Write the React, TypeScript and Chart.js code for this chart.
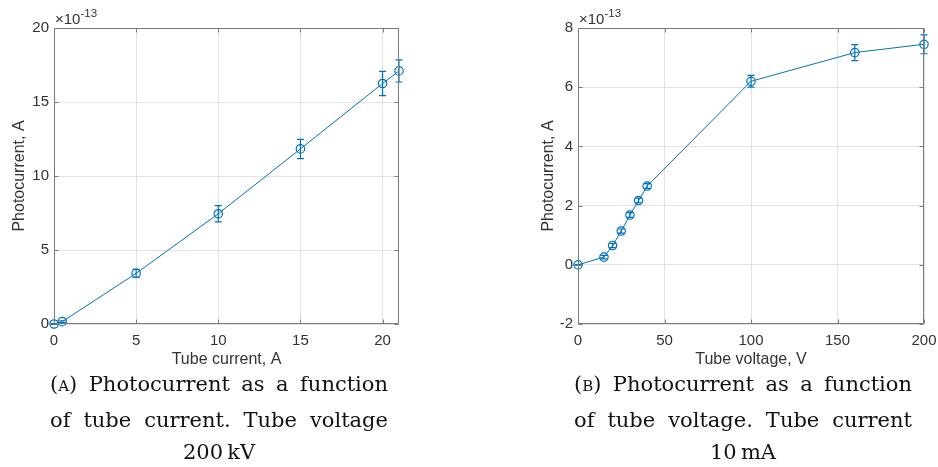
import React, { useEffect, useRef } from "react";
import { Chart, registerables } from "chart.js";

Chart.register(...registerables);

// ---- Data (photocurrent in units of 1e-13 A) ----
const tubeCurrent = [0, 0.5, 5, 10, 15, 20, 21];
const photoVsCurrent = [0, 0.16, 3.42, 7.45, 11.83, 16.25, 17.1];
const errVsCurrent = [0.02, 0.06, 0.27, 0.55, 0.65, 0.82, 0.75];
const xTicksCurrent = [0, 5, 10, 15, 20];
const yTicksCurrent = [0, 5, 10, 15, 20];

const tubeVoltage = [0, 15, 20, 25, 30, 35, 40, 100, 160, 200];
const photoVsVoltage = [0, 0.26, 0.65, 1.14, 1.68, 2.17, 2.66, 6.2, 7.17, 7.45];
const errVsVoltage = [0.01, 0.06, 0.07, 0.07, 0.08, 0.08, 0.08, 0.2, 0.27, 0.32];
const xTicksVoltage = [0, 50, 100, 150, 200];
const yTicksVoltage = [-2, 0, 2, 4, 6, 8];

const exponentBase = "\u00d710";
const exponentPower = "-13";

const captionA = ["(a) Photocurrent as a function", "of tube current.  Tube voltage", "200\u2009kV"];
const captionB = ["(b) Photocurrent as a function", "of tube voltage.  Tube current", "10\u2009mA"];

const BLUE = "#0072BD";
const AXIS = "#7a7a7a";
const TEXT = "#333333";
const GRID = "#e3e3e3";
const FONT = "'Liberation Sans', Arial, Helvetica, sans-serif";

function decorPlugin(errs: number[]) {
  return {
    id: "matlabDecor",
    afterDatasetsDraw(chart: any) {
      const ctx = chart.ctx as CanvasRenderingContext2D;
      const xs = chart.scales.x;
      const ys = chart.scales.y;
      const pts = chart.data.datasets[0].data as { x: number; y: number }[];
      ctx.save();
      ctx.strokeStyle = BLUE;
      ctx.lineWidth = 1.2;
      pts.forEach((p, i) => {
        const e = errs[i];
        if (!e) return;
        const px = xs.getPixelForValue(p.x);
        const top = ys.getPixelForValue(p.y + e);
        const bot = ys.getPixelForValue(p.y - e);
        ctx.beginPath();
        ctx.moveTo(px, top);
        ctx.lineTo(px, bot);
        ctx.moveTo(px - 3.5, top);
        ctx.lineTo(px + 3.5, top);
        ctx.moveTo(px - 3.5, bot);
        ctx.lineTo(px + 3.5, bot);
        ctx.stroke();
      });
      ctx.restore();
    },
    afterDraw(chart: any) {
      const ctx = chart.ctx as CanvasRenderingContext2D;
      const a = chart.chartArea;
      const xs = chart.scales.x;
      const ys = chart.scales.y;
      const L = Math.round(a.left) + 0.5;
      const R = Math.round(a.right) - 0.5;
      const T = Math.round(a.top) + 0.5;
      const B = Math.round(a.bottom) - 0.5;
      ctx.save();
      ctx.strokeStyle = AXIS;
      ctx.lineWidth = 1;
      ctx.beginPath();
      ctx.rect(L, T, R - L, B - T);
      const tl = 4;
      xs.ticks.forEach((t: any) => {
        const px = Math.round(xs.getPixelForValue(t.value)) + 0.5;
        ctx.moveTo(px, B);
        ctx.lineTo(px, B - tl);
        ctx.moveTo(px, T);
        ctx.lineTo(px, T + tl);
      });
      ys.ticks.forEach((t: any) => {
        const py = Math.round(ys.getPixelForValue(t.value)) + 0.5;
        ctx.moveTo(L, py);
        ctx.lineTo(L + tl, py);
        ctx.moveTo(R, py);
        ctx.lineTo(R - tl, py);
      });
      ctx.stroke();
      // exponent label
      ctx.fillStyle = TEXT;
      ctx.textBaseline = "alphabetic";
      ctx.textAlign = "left";
      ctx.font = `15px ${FONT}`;
      ctx.fillText(exponentBase, a.left + 1, a.top - 4);
      const w = ctx.measureText(exponentBase).width;
      ctx.font = `11.5px ${FONT}`;
      ctx.fillText(exponentPower, a.left + 1 + w, a.top - 11.5);
      ctx.restore();
    },
  };
}

type PanelProps = {
  xs: number[];
  ys: number[];
  errs: number[];
  xTicks: number[];
  yTicks: number[];
  xMin: number;
  xMax: number;
  yMin: number;
  yMax: number;
  xTitle: string;
  yTitle: string;
  padLeft: number;
  yAxisWidth: number;
  padRight: number;
  left: number;
};

const W = 469;
const H = 372;

function Panel(p: PanelProps) {
  const ref = useRef<HTMLCanvasElement | null>(null);
  useEffect(() => {
    if (!ref.current) return;
    const chart = new Chart(ref.current, {
      type: "line",
      data: {
        datasets: [
          {
            data: p.xs.map((x, i) => ({ x, y: p.ys[i] })),
            borderColor: BLUE,
            borderWidth: 1,
            pointRadius: 4.2,
            pointBorderWidth: 1.2,
            pointBorderColor: BLUE,
            pointBackgroundColor: "rgba(0,0,0,0)",
            pointStyle: "circle",
            fill: false,
            tension: 0,
            clip: false as any,
          },
        ],
      },
      options: {
        responsive: false,
        animation: false,
        devicePixelRatio: 1,
        layout: { padding: { left: p.padLeft, right: p.padRight, top: 28, bottom: 0 } },
        plugins: { legend: { display: false }, tooltip: { enabled: false } },
        scales: {
          x: {
            type: "linear",
            position: "bottom",
            min: p.xMin,
            max: p.xMax,
            afterBuildTicks: (s: any) => {
              s.ticks = p.xTicks.map((v) => ({ value: v }));
            },
            afterFit: (s: any) => {
              s.height = H - 324;
              s.paddingLeft = 0;
              s.paddingRight = 0;
            },
            grid: { color: GRID, drawTicks: false, lineWidth: 1 },
            border: { display: false },
            ticks: {
              color: TEXT,
              font: { family: FONT, size: 15 },
              padding: 8,
              maxRotation: 0,
              autoSkip: false,
              callback: (v: any) => String(v),
            },
            title: {
              display: true,
              text: p.xTitle,
              color: TEXT,
              font: { family: FONT, size: 16 },
              padding: { top: 0, bottom: 2.4 },
            },
          },
          y: {
            type: "linear",
            position: "left",
            min: p.yMin,
            max: p.yMax,
            afterBuildTicks: (s: any) => {
              s.ticks = p.yTicks.map((v) => ({ value: v }));
            },
            afterFit: (s: any) => {
              s.width = p.yAxisWidth;
              s.paddingTop = 0;
              s.paddingBottom = 0;
            },
            grid: { color: GRID, drawTicks: false, lineWidth: 1 },
            border: { display: false },
            ticks: {
              color: TEXT,
              font: { family: FONT, size: 15 },
              padding: 5,
              autoSkip: false,
              callback: (v: any) => String(v),
            },
            title: {
              display: true,
              text: p.yTitle,
              color: TEXT,
              font: { family: FONT, size: 16 },
              padding: { top: 9.5, bottom: 0 },
            },
          },
        },
      },
      plugins: [decorPlugin(p.errs)],
    } as any);
    return () => chart.destroy();
  }, []);
  return (
    <canvas
      ref={ref}
      width={W}
      height={H}
      style={{ position: "absolute", left: p.left, top: 0, width: W, height: H }}
    />
  );
}

function Caption({ lines, left }: { lines: string[]; left: number }) {
  const base: React.CSSProperties = {
    fontFamily: "'DejaVu Serif', serif",
    fontSize: 21,
    lineHeight: "34px",
    height: 34,
    color: "#111",
    whiteSpace: "pre",
  };
  return (
    <div style={{ position: "absolute", left, top: 367, width: 338 }}>
      {lines.map((t, i) => {
        if (i === 0) {
          const m = t.match(/^\((\w)\)(.*)$/);
          return (
            <div key={i} style={{ ...base, textAlign: "justify", textAlignLast: "justify", whiteSpace: "normal" }}>
              ({<span style={{ fontVariant: "small-caps" }}>{m ? m[1] : ""}</span>}){m ? m[2] : t}
            </div>
          );
        }
        if (i === lines.length - 1) {
          return (
            <div key={i} style={{ ...base, textAlign: "center", marginTop: -2 }}>
              {t}
            </div>
          );
        }
        return (
          <div key={i} style={{ ...base, textAlign: "justify", textAlignLast: "justify", whiteSpace: "normal", marginTop: 2 }}>
            {t}
          </div>
        );
      })}
    </div>
  );
}

export default function App() {
  useEffect(() => {
    document.body.style.margin = "0";
    document.body.style.background = "#ffffff";
  }, []);
  return (
    <div style={{ position: "absolute", left: 0, top: 0, width: 938, height: 467, background: "#fff", overflow: "hidden" }}>
      <Panel
        xs={tubeCurrent}
        ys={photoVsCurrent}
        errs={errVsCurrent}
        xTicks={xTicksCurrent}
        yTicks={yTicksCurrent}
        xMin={0}
        xMax={21}
        yMin={0}
        yMax={20}
        xTitle="Tube current, A"
        yTitle="Photocurrent, A"
        padLeft={0}
        yAxisWidth={54}
        padRight={W - 399}
        left={0}
      />
      <Panel
        xs={tubeVoltage}
        ys={photoVsVoltage}
        errs={errVsVoltage}
        xTicks={xTicksVoltage}
        yTicks={yTicksVoltage}
        xMin={0}
        xMax={200}
        yMin={-2}
        yMax={8}
        xTitle="Tube voltage, V"
        yTitle="Photocurrent, A"
        padLeft={60}
        yAxisWidth={49}
        padRight={W - 455}
        left={469}
      />
      <Caption lines={captionA} left={50} />
      <Caption lines={captionB} left={574} />
    </div>
  );
}
